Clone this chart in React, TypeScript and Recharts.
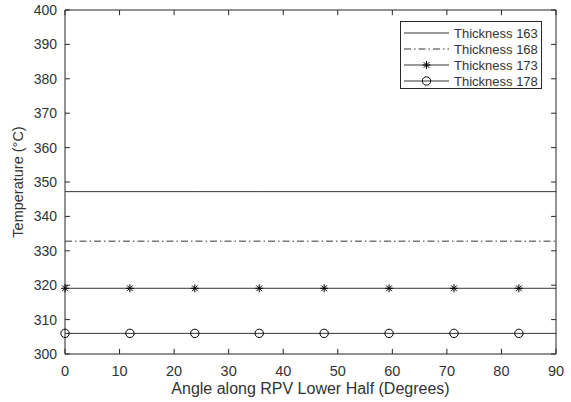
import React from 'react';
import { LineChart, Line, XAxis, YAxis, ReferenceLine } from 'recharts';

// sample angles (marker positions) plus the end of the sweep
const angles = [0, 11.9, 23.8, 35.6, 47.5, 59.4, 71.3, 83.2, 90];
const thick163 = [347.2, 347.2, 347.2, 347.2, 347.2, 347.2, 347.2, 347.2, 347.2];
const thick168 = [332.8, 332.8, 332.8, 332.8, 332.8, 332.8, 332.8, 332.8, 332.8];
const thick173 = [319.1, 319.1, 319.1, 319.1, 319.1, 319.1, 319.1, 319.1, 319.1];
const thick178 = [306.0, 306.0, 306.0, 306.0, 306.0, 306.0, 306.0, 306.0, 306.0];
const xTicks = [0, 10, 20, 30, 40, 50, 60, 70, 80, 90];
const yTicks = [300, 310, 320, 330, 340, 350, 360, 370, 380, 390, 400];

const X_MIN = 0;
const X_MAX = 90;
const Y_MIN = 300;
const Y_MAX = 400;
// inward tick length in data units (about 5px each way)
const X_TICK_LEN = 0.9;
const Y_TICK_LEN = 1.5;

const data = angles.map((a, i) => ({
  angle: a,
  t163: thick163[i],
  t168: thick168[i],
  t173: thick173[i],
  t178: thick178[i],
}));

const FONT = '"Liberation Sans", Arial, sans-serif';
const AXIS = '#262626';
const TEXT = '#333';
const DASHDOT = '7 3 1.5 3';

const last = angles.length - 1;

const Star = (props: any) => {
  const { cx, cy, index } = props;
  if (index === last || cx == null) return <g key={`s-${index}`} />;
  const r = 4;
  const d = r * 0.72;
  return (
    <g key={`s-${index}`} stroke="#000" strokeWidth={1}>
      <line x1={cx} y1={cy - r} x2={cx} y2={cy + r} />
      <line x1={cx - r} y1={cy} x2={cx + r} y2={cy} />
      <line x1={cx - d} y1={cy - d} x2={cx + d} y2={cy + d} />
      <line x1={cx - d} y1={cy + d} x2={cx + d} y2={cy - d} />
    </g>
  );
};

const Ring = (props: any) => {
  const { cx, cy, index } = props;
  if (index === last || cx == null) return <g key={`o-${index}`} />;
  return <circle key={`o-${index}`} cx={cx} cy={cy} r={4.2} fill="none" stroke="#000" strokeWidth={1} />;
};

const BottomTick = ({ x, y, payload }: any) => (
  <text x={x} y={y + 22} textAnchor="middle" fill={TEXT} fontSize={14.5} fontFamily={FONT}>
    {payload.value}
  </text>
);

const LeftTick = ({ x, y, payload }: any) => (
  <text x={x - 8} y={y + 5} textAnchor="end" fill={TEXT} fontSize={14} fontFamily={FONT}>
    {payload.value}
  </text>
);

const legendItems = [
  { name: 'Thickness 163', dash: undefined, marker: null },
  { name: 'Thickness 168', dash: DASHDOT, marker: null },
  { name: 'Thickness 173', dash: undefined, marker: 'star' },
  { name: 'Thickness 178', dash: undefined, marker: 'ring' },
];

const ChartLegend = () => (
  <div
    style={{
      position: 'absolute',
      left: 400,
      top: 21,
      width: 142,
      height: 68,
      border: `1px solid ${AXIS}`,
      background: '#fff',
      fontFamily: FONT,
      fontSize: 13,
      color: TEXT,
      boxSizing: 'border-box',
      paddingTop: 3,
    }}
  >
    {legendItems.map((it) => (
      <div key={it.name} style={{ display: 'flex', alignItems: 'center', height: 16 }}>
        <svg width={52} height={16}>
          <line x1={3} x2={48} y1={8} y2={8} stroke="#000" strokeWidth={0.8} strokeDasharray={it.dash} />
          {it.marker === 'star' && <Star cx={25.5} cy={8} index={0} />}
          {it.marker === 'ring' && <Ring cx={25.5} cy={8} index={0} />}
        </svg>
        <span style={{ marginLeft: 1, whiteSpace: 'nowrap' }}>{it.name}</span>
      </div>
    ))}
  </div>
);

export default function App() {
  return (
    <div style={{ position: 'fixed', left: 0, top: 0, width: 571, height: 402, background: '#fff' }}>
      <LineChart width={571} height={402} data={data} margin={{ top: 10, right: 15, bottom: 0, left: 0 }}>
        <XAxis
          dataKey="angle"
          type="number"
          domain={[X_MIN, X_MAX]}
          ticks={xTicks}
          height={48}
          tickSize={0}
          tickMargin={0}
          tickLine={false}
          stroke={AXIS}
          tick={<BottomTick />}
          label={({ viewBox }: any) => (
            <text
              x={viewBox.x + viewBox.width / 2}
              y={viewBox.y + 40}
              textAnchor="middle"
              fill={TEXT}
              fontSize={16}
              fontFamily={FONT}
            >
              Angle along RPV Lower Half (Degrees)
            </text>
          )}
        />
        <YAxis
          type="number"
          domain={[Y_MIN, Y_MAX]}
          ticks={yTicks}
          width={65}
          tickSize={0}
          tickMargin={0}
          tickLine={false}
          stroke={AXIS}
          tick={<LeftTick />}
          label={({ viewBox }: any) => {
            const cx = viewBox.x + 18;
            const cy = viewBox.y + viewBox.height / 2;
            return (
              <text
                x={cx}
                y={cy}
                transform={`rotate(-90, ${cx}, ${cy})`}
                textAnchor="middle"
                dominantBaseline="central"
                fill={TEXT}
                fontSize={14.5}
                fontFamily={FONT}
              >
                Temperature (°C)
              </text>
            );
          }}
        />
        {/* box: top and right edges */}
        <ReferenceLine y={Y_MAX} stroke={AXIS} ifOverflow="visible" />
        <ReferenceLine x={X_MAX} stroke={AXIS} ifOverflow="visible" />
        {/* inward ticks on all four sides */}
        {xTicks.map((t) => (
          <ReferenceLine
            key={`xb-${t}`}
            segment={[{ x: t, y: Y_MIN }, { x: t, y: Y_MIN + Y_TICK_LEN }]}
            stroke={AXIS}
            ifOverflow="visible"
          />
        ))}
        {xTicks.map((t) => (
          <ReferenceLine
            key={`xt-${t}`}
            segment={[{ x: t, y: Y_MAX }, { x: t, y: Y_MAX - Y_TICK_LEN }]}
            stroke={AXIS}
            ifOverflow="visible"
          />
        ))}
        {yTicks.map((t) => (
          <ReferenceLine
            key={`yl-${t}`}
            segment={[{ x: X_MIN, y: t }, { x: X_MIN + X_TICK_LEN, y: t }]}
            stroke={AXIS}
            ifOverflow="visible"
          />
        ))}
        {yTicks.map((t) => (
          <ReferenceLine
            key={`yr-${t}`}
            segment={[{ x: X_MAX, y: t }, { x: X_MAX - X_TICK_LEN, y: t }]}
            stroke={AXIS}
            ifOverflow="visible"
          />
        ))}
        <Line dataKey="t163" stroke="#000" strokeWidth={0.8} dot={false} isAnimationActive={false} />
        <Line
          dataKey="t168"
          stroke="#000"
          strokeWidth={0.8}
          strokeDasharray={DASHDOT}
          dot={false}
          isAnimationActive={false}
        />
        <Line dataKey="t173" stroke="#000" strokeWidth={0.8} dot={Star} activeDot={false} isAnimationActive={false} />
        <Line dataKey="t178" stroke="#000" strokeWidth={0.8} dot={Ring} activeDot={false} isAnimationActive={false} />
      </LineChart>
      <ChartLegend />
    </div>
  );
}
